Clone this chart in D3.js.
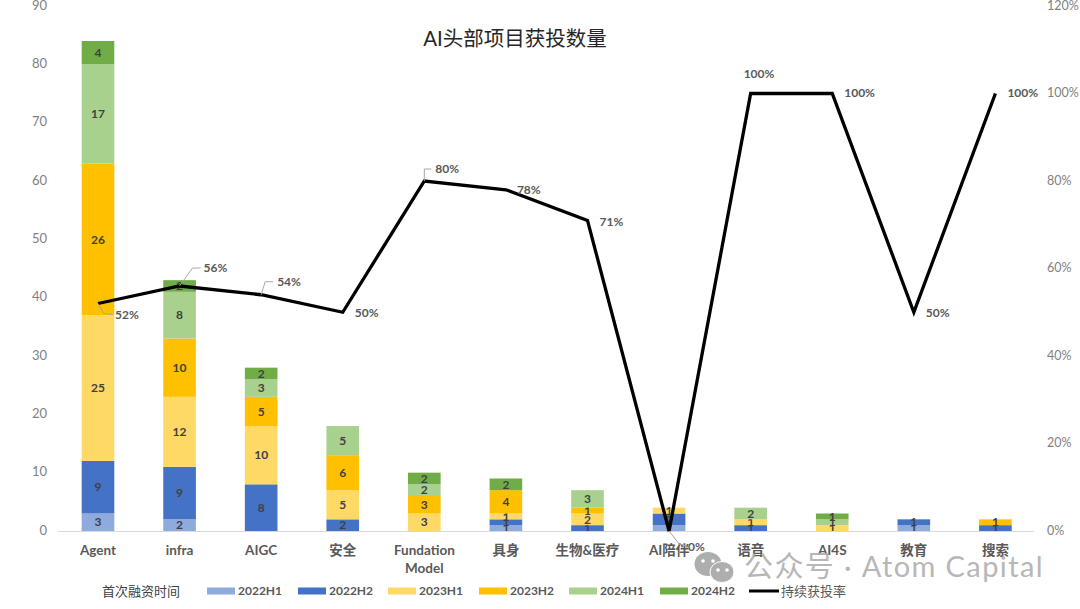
<!DOCTYPE html>
<html>
<head>
    <meta charset="utf-8">
    <title>AI头部项目获投数量</title>
    <script src="https://d3js.org/d3.v7.min.js"></script>
    <style>
        body, html { margin: 0; background: #fff; overflow: hidden; }
        text { font-family: Lato, "Noto Sans CJK SC", sans-serif; }
    </style>
</head>
<body>
<div id="chart"></div>
<script>
    const categories = ["Agent", "infra", "AIGC", "安全", "Fundation Model", "具身", "生物&医疗", "AI陪伴", "语音", "AI4S", "教育", "搜索"];
    const periods = ["2022H1", "2022H2", "2023H1", "2023H2", "2024H1", "2024H2"];
    const v2022H1 = [3, 2, 0, 0, 0, 1, 0, 1, 0, 0, 1, 0];
    const v2022H2 = [9, 9, 8, 2, 0, 1, 1, 2, 1, 0, 1, 1];
    const v2023H1 = [25, 12, 10, 5, 3, 1, 2, 1, 1, 1, 0, 0];
    const v2023H2 = [26, 10, 5, 6, 3, 4, 1, 0, 0, 0, 0, 1];
    const v2024H1 = [17, 8, 3, 5, 2, 0, 3, 0, 2, 1, 0, 0];
    const v2024H2 = [4, 2, 2, 0, 2, 2, 0, 0, 0, 1, 0, 0];
    const rate = [52, 56, 54, 50, 80, 78, 71, 0, 100, 100, 50, 100];
    const countTicks = [0, 10, 20, 30, 40, 50, 60, 70, 80, 90];
    const rateTicks = [0, 20, 40, 60, 80, 100, 120];

    const colors = ["#8faadc", "#4472c4", "#ffd966", "#ffc000", "#a9d18e", "#70ad47"];
    const width = 1080, height = 609;

    const svg = d3.select("#chart").append("svg")
        .attr("width", width)
        .attr("height", height)
        .style("display", "block");

    const x = d3.scaleBand().domain(categories).range([57.2, 1036.2]).paddingInner(0.6).paddingOuter(0.3);
    const y = d3.scaleLinear().domain([0, 90]).range([531, 6]);
    const yRate = d3.scaleLinear().domain([0, 120]).range([531, 6]);
    const center = c => x(c) + x.bandwidth() / 2;

    // stacked bars
    const rows = categories.map((c, i) => {
        const row = { category: c };
        [v2022H1, v2022H2, v2023H1, v2023H2, v2024H1, v2024H2].forEach((s, k) => { row[periods[k]] = s[i]; });
        return row;
    });
    const stacked = d3.stack().keys(periods)(rows);

    const layers = svg.append("g").selectAll("g")
        .data(stacked)
        .join("g")
        .attr("fill", (d, i) => colors[i]);

    layers.selectAll("rect")
        .data(d => d.filter(p => p[1] > p[0]))
        .join("rect")
        .attr("x", d => x(d.data.category))
        .attr("width", x.bandwidth())
        .attr("y", d => y(d[1]))
        .attr("height", d => y(d[0]) - y(d[1]));

    layers.selectAll("text")
        .data(d => d.filter(p => p[1] > p[0]))
        .join("text")
        .attr("x", d => center(d.data.category))
        .attr("y", d => y((d[0] + d[1]) / 2))
        .attr("dy", "0.35em")
        .attr("text-anchor", "middle")
        .attr("fill", "#404040")
        .attr("font-size", 12)
        .attr("font-weight", 700)
        .text(d => d[1] - d[0]);

    // axes
    const leftAxis = svg.append("g")
        .attr("transform", "translate(47,-1)")
        .call(d3.axisLeft(y).tickValues(countTicks).tickSize(0).tickPadding(0));
    const rightAxis = svg.append("g")
        .attr("transform", "translate(1047,-1)")
        .call(d3.axisRight(yRate).tickValues(rateTicks).tickSize(0).tickPadding(0).tickFormat(d => d + "%"));
    leftAxis.select(".domain").remove();
    rightAxis.select(".domain").remove();
    leftAxis.selectAll("text").attr("fill", "#7f7f7f").attr("font-size", 13).style("font-family", null);
    rightAxis.selectAll("text").attr("fill", "#7f7f7f").attr("font-size", 12.5).style("font-family", null);

    const bottomAxis = svg.append("g")
        .attr("transform", "translate(0,531)")
        .call(d3.axisBottom(x).tickSize(0).tickPadding(0));
    bottomAxis.select(".domain").remove();
    svg.append("line")
        .attr("x1", 58).attr("x2", 1034)
        .attr("y1", 531.5).attr("y2", 531.5)
        .attr("stroke", "#d9d9d9");
    bottomAxis.selectAll("text").each(function(d) {
        const words = d.split(" ");
        const t = d3.select(this).text(null)
            .attr("y", 0)
            .attr("dy", null)
            .attr("fill", "#595959")
            .attr("font-size", 13.5)
            .attr("font-weight", 700);
        words.forEach((w, i) => {
            t.append("tspan")
                .attr("x", 0)
                .attr("y", 24 + i * 18)
                .text(w);
        });
    });

    // rate line
    const line = d3.line()
        .x((d, i) => center(categories[i]))
        .y(d => yRate(d));
    svg.append("path")
        .datum(rate)
        .attr("d", line)
        .attr("fill", "none")
        .attr("stroke", "#000")
        .attr("stroke-width", 3.3);

    // rate labels: text start relative to its point, plus an optional leader elbow
    const labelOffsets = [
        { dx: 17, dy: 11, elbow: [[6, 10], [15, 11]] },
        { dx: 24, dy: -18, elbow: [[13, -18], [21, -18]] },
        { dx: 16, dy: -13, elbow: [[4, -13], [12, -13]] },
        { dx: 12, dy: 1 },
        { dx: 11, dy: -12, elbow: [[0, -12], [7, -12]] },
        { dx: 11, dy: 0 },
        { dx: 12, dy: 1 },
        { dx: 19, dy: 16, elbow: [[10, 13], [18, 15]] },
        { dx: -7, dy: -20 },
        { dx: 12, dy: -1 },
        { dx: 12, dy: 1 },
        { dx: 12, dy: -1 }
    ];
    const rateLabels = svg.append("g").selectAll("g")
        .data(rate.map((value, i) => ({ value, category: categories[i], offset: labelOffsets[i] })))
        .join("g")
        .attr("transform", d => `translate(${center(d.category)},${yRate(d.value)})`);
    rateLabels.filter(d => d.offset.elbow)
        .append("path")
        .attr("d", d => d3.line()([[0, 0]].concat(d.offset.elbow)))
        .attr("fill", "none")
        .attr("stroke", "#a6a6a6");
    rateLabels.append("text")
        .attr("x", d => d.offset.dx)
        .attr("y", d => d.offset.dy)
        .attr("dy", "0.35em")
        .attr("fill", "#595959")
        .attr("font-size", 12)
        .attr("font-weight", 700)
        .text(d => d.value + "%");

    // title
    svg.append("text")
        .attr("x", 515).attr("y", 39)
        .attr("dy", "0.35em")
        .attr("text-anchor", "middle")
        .attr("fill", "#262626")
        .attr("font-size", 20.5)
        .text("AI头部项目获投数量");

    // legend
    const legendY = 591;
    const legendX = [207, 298, 388, 479, 569, 660];
    svg.append("text")
        .attr("x", 102).attr("y", legendY).attr("dy", "0.35em")
        .attr("fill", "#404040").attr("font-size", 13)
        .text("首次融资时间");
    const legend = svg.append("g").selectAll("g")
        .data(periods)
        .join("g")
        .attr("transform", (d, i) => `translate(${legendX[i]},${legendY})`);
    legend.append("rect")
        .attr("y", -3.5).attr("width", 28).attr("height", 7)
        .attr("fill", (d, i) => colors[i]);
    legend.append("text")
        .attr("x", 31).attr("dy", "0.35em")
        .attr("fill", "#595959").attr("font-size", 12).attr("font-weight", 700)
        .text(d => d);
    svg.append("line")
        .attr("x1", 749).attr("x2", 779)
        .attr("y1", legendY).attr("y2", legendY)
        .attr("stroke", "#000").attr("stroke-width", 3);
    svg.append("text")
        .attr("x", 781).attr("y", legendY).attr("dy", "0.35em")
        .attr("fill", "#595959").attr("font-size", 13)
        .text("持续获投率");

    // watermark
    const mark = svg.append("g").attr("opacity", 0.9);
    mark.append("ellipse").attr("cx", 708).attr("cy", 564).attr("rx", 13.5).attr("ry", 12).attr("fill", "#a6a6a6");
    mark.append("ellipse").attr("cx", 722).attr("cy", 572).attr("rx", 12).attr("ry", 10.5).attr("fill", "#a6a6a6").attr("stroke", "#fff");
    mark.selectAll("circle")
        .data([[703, 561], [713, 561], [718, 570], [727, 570]])
        .join("circle")
        .attr("cx", d => d[0]).attr("cy", d => d[1]).attr("r", 1.8).attr("fill", "#fff");
    mark.append("text")
        .attr("x", 744).attr("y", 567).attr("dy", "0.35em")
        .attr("fill", "#b0b0b0").attr("font-size", 29)
        .attr("letter-spacing", 1.4)
        .text("公众号 · Atom Capital");
</script>
</body>
</html>
